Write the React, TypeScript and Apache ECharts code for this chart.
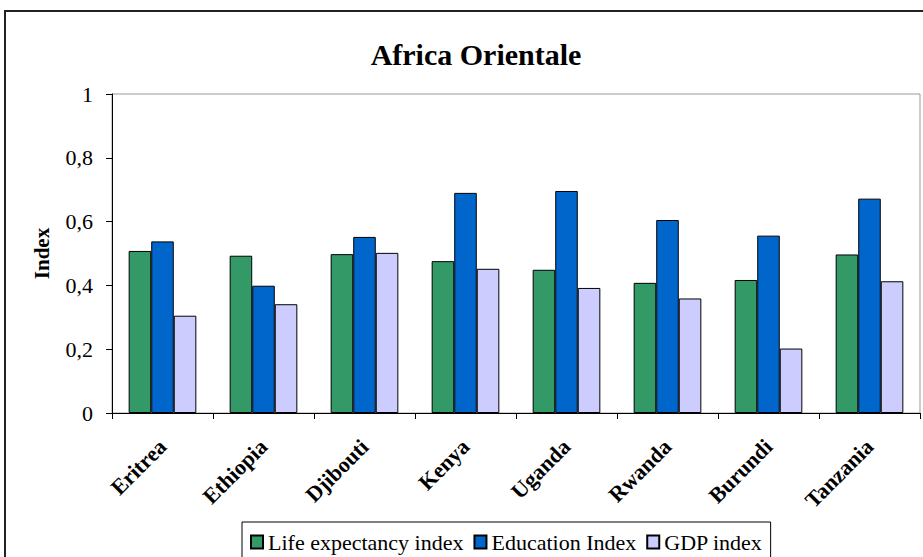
import React, { useEffect, useRef } from "react";
import * as echarts from "echarts";

const countries = ["Eritrea", "Ethiopia", "Djibouti", "Kenya", "Uganda", "Rwanda", "Burundi", "Tanzania"];
const lifeExpectancy = [0.508, 0.493, 0.498, 0.476, 0.449, 0.408, 0.417, 0.497];
const education = [0.538, 0.399, 0.552, 0.69, 0.696, 0.605, 0.556, 0.672];
const gdp = [0.305, 0.341, 0.502, 0.452, 0.392, 0.359, 0.202, 0.413];
const yTicks = [0, 0.2, 0.4, 0.6, 0.8, 1];

const FONT = "'Liberation Serif', 'Times New Roman', serif";

export default function App() {
  const ref = useRef<HTMLDivElement>(null);

  useEffect(() => {
    if (!ref.current) return;
    const chart = echarts.init(ref.current, null, { renderer: "svg" });
    const barStyle = (color: string) => ({
      color,
      borderColor: "#000",
      borderWidth: 1,
    });
    chart.setOption({
      animation: false,
      backgroundColor: "#fff",
      textStyle: { fontFamily: FONT },
      title: {
        text: "Africa Orientale",
        left: 471,
        top: 34,
        textAlign: "center",
        textStyle: { fontFamily: FONT, fontWeight: "bold", fontSize: 30, color: "#000" },
      },
      graphic: [
        {
          type: "rect",
          shape: { x: 5, y: 11, width: 1000, height: 1000 },
          style: { fill: "none", stroke: "#222", lineWidth: 2 },
          silent: true,
          z: 100,
        },
      ],
      legend: {
        top: 522,
        left: 242,
        itemWidth: 12,
        itemHeight: 13,
        itemGap: 10,
        padding: [9, 8, 20, 8],
        borderColor: "#000",
        borderWidth: 1,
        icon: "rect",
        textStyle: { fontFamily: FONT, fontSize: 22, color: "#000" },
        data: ["Life expectancy index", "Education Index", "GDP index"],
      },
      grid: {
        left: 112,
        top: 94,
        right: 3,
        bottom: 144,
        show: true,
        borderColor: "#999",
        borderWidth: 1,
      },
      xAxis: {
        type: "category",
        data: countries,
        axisLine: { lineStyle: { color: "#000", width: 1 } },
        axisTick: { show: true, length: 6, lineStyle: { color: "#000" } },
        axisLabel: {
          rotate: 45,
          interval: 0,
          margin: 30,
          fontFamily: FONT,
          fontWeight: "bold",
          fontSize: 22,
          color: "#000",
        },
      },
      yAxis: {
        type: "value",
        min: 0,
        max: 1,
        interval: 0.2,
        name: "Index",
        nameLocation: "middle",
        nameGap: 60,
        nameTextStyle: { fontFamily: FONT, fontWeight: "bold", fontSize: 21, color: "#000" },
        axisLine: { show: true, lineStyle: { color: "#000", width: 1 } },
        axisTick: { show: true, length: 6, lineStyle: { color: "#000" } },
        splitLine: { show: false },
        axisLabel: {
          margin: 19,
          fontFamily: FONT,
          fontSize: 22,
          color: "#000",
          formatter: (v: number) => {
            const t = yTicks.find((x) => Math.abs(x - v) < 1e-9);
            return String(t ?? v).replace(".", ",");
          },
        },
      },
      series: [
        {
          name: "Life expectancy index",
          type: "bar",
          data: lifeExpectancy,
          itemStyle: barStyle("#339966"),
          barGap: "0%",
          barCategoryGap: "33%",
        },
        {
          name: "Education Index",
          type: "bar",
          data: education,
          itemStyle: barStyle("#0066CC"),
          barGap: "0%",
          barCategoryGap: "33%",
        },
        {
          name: "GDP index",
          type: "bar",
          data: gdp,
          itemStyle: barStyle("#CCCCFF"),
          barGap: "0%",
          barCategoryGap: "33%",
        },
      ],
    });
    return () => chart.dispose();
  }, []);

  return (
    <div
      ref={ref}
      style={{ position: "fixed", left: 0, top: 0, width: 923, height: 557, background: "#fff" }}
    />
  );
}
